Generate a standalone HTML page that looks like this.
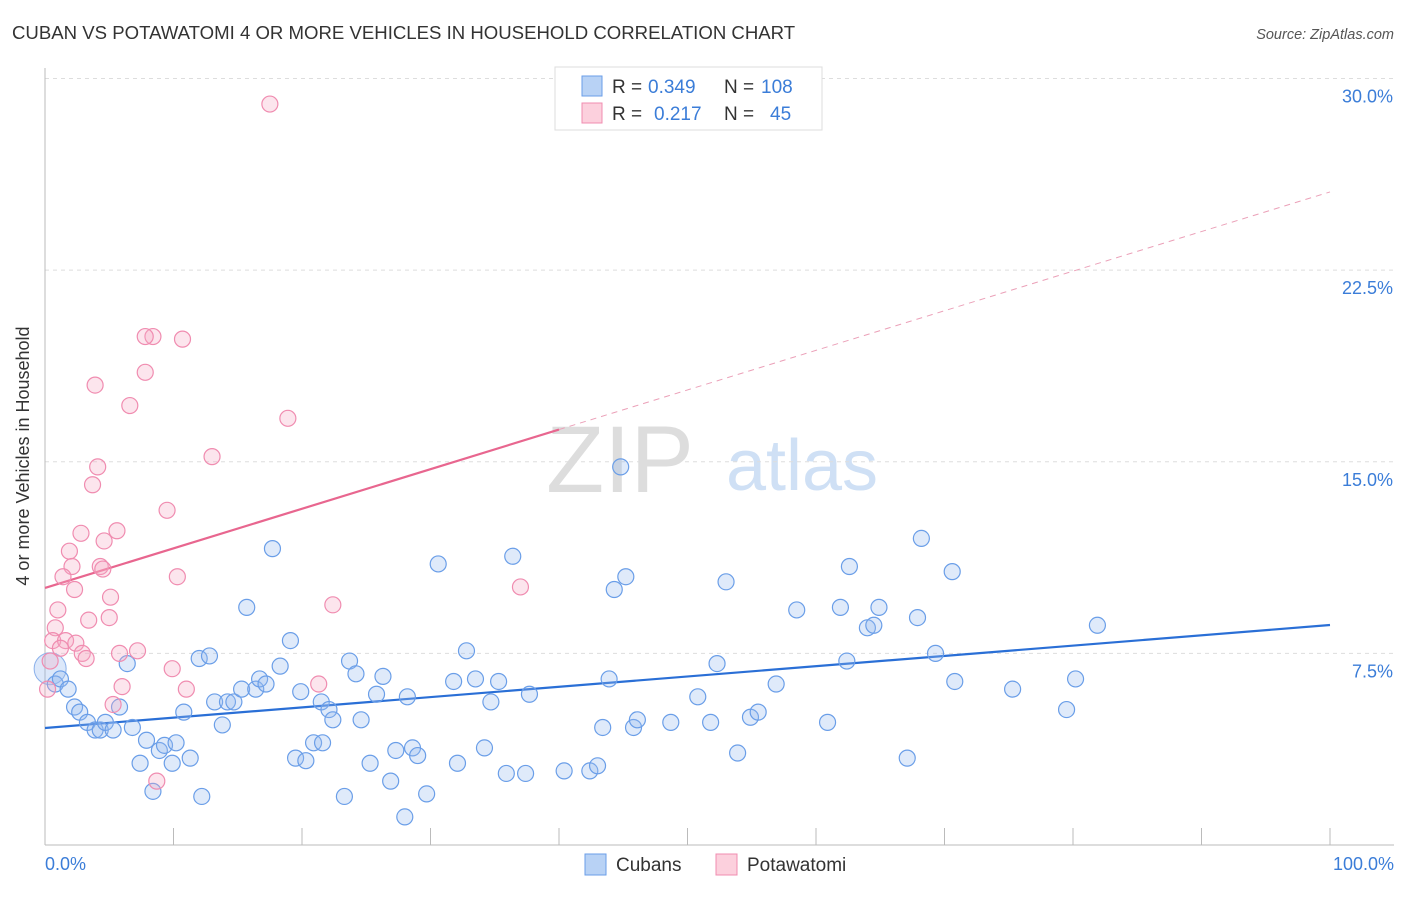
<!DOCTYPE html>
<html><head><meta charset="utf-8"><style>
body{margin:0;background:#fff;font-family:"Liberation Sans",sans-serif;}
svg text{font-family:"Liberation Sans",sans-serif;}
</style></head><body>
<svg id="chart" width="1406" height="892" xmlns="http://www.w3.org/2000/svg">
<text x="12" y="39" font-size="18.6" fill="#333">CUBAN VS POTAWATOMI 4 OR MORE VEHICLES IN HOUSEHOLD CORRELATION CHART</text>
<text x="1394" y="39" font-size="14.5" fill="#555" font-style="italic" text-anchor="end">Source: ZipAtlas.com</text>
<text x="620" y="492" font-size="95" fill="#ddd" font-family="Liberation Serif" text-anchor="middle">ZIP</text>
<text x="802" y="490" font-size="72" fill="#cfe0f5" text-anchor="middle">atlas</text>
<g id="grid"></g>
<g id="axes"></g>
<g id="lines"></g>
<g id="points"></g>
<text x="29" y="456" font-size="18" fill="#333" text-anchor="middle" transform="rotate(-90 29 456)">4 or more Vehicles in Household</text>
<text x="45" y="870" font-size="18" fill="#3b7dd8">0.0%</text>
<text x="1394" y="870" font-size="18" fill="#3b7dd8" text-anchor="end">100.0%</text>
<g font-size="19">
<rect x="555" y="67" width="267" height="63" fill="#fff" stroke="#ddd"/>
<rect x="582" y="76" width="20" height="20" fill="#b8d2f5" stroke="#6a9ee8"/>
<rect x="582" y="103" width="20" height="20" fill="#fcd0dd" stroke="#f08cb0"/>
<text x="612" y="93" fill="#333">R =</text>
<text x="648" y="93" fill="#3b7dd8">0.349</text>
<text x="724" y="93" fill="#333">N =</text>
<text x="761" y="93" fill="#3b7dd8">108</text>
<text x="612" y="120" fill="#333">R =</text>
<text x="654" y="120" fill="#3b7dd8">0.217</text>
<text x="724" y="120" fill="#333">N =</text>
<text x="770" y="120" fill="#3b7dd8">45</text>
</g>
<g>
<rect x="585" y="854" width="21" height="21" fill="#b8d2f5" stroke="#6a9ee8"/>
<text x="616" y="871" font-size="19" fill="#333">Cubans</text>
<rect x="716" y="854" width="21" height="21" fill="#fcd0dd" stroke="#f08cb0"/>
<text x="747" y="871" font-size="19" fill="#333">Potawatomi</text>
</g>
</svg>
<script>
const yTicks=[7.5,15,22.5,30];
const yTickLabels=["7.5%","15.0%","22.5%","30.0%"];
const xTicks=[0,10,20,30,40,50,60,70,80,90,100];
const cubanX=[0.8,1.2,1.8,2.3,2.7,3.3,3.9,4.3,4.7,5.3,5.8,6.4,6.8,7.4,7.9,8.4,8.9,9.3,9.9,10.2,10.8,11.3,12.2,12.0,12.8,13.2,13.8,14.2,14.7,15.3,15.7,16.4,16.7,17.2,17.7,18.3,19.1,19.5,19.9,20.3,20.9,21.6,21.5,22.1,22.4,23.3,23.7,24.2,24.6,25.3,25.8,26.3,26.9,27.3,28.0,28.2,28.6,29.0,29.7,30.6,31.8,32.1,32.8,33.5,34.2,34.7,35.3,35.9,36.4,37.4,37.7,40.4,42.4,43.0,43.4,43.9,44.3,44.8,45.2,45.8,46.1,48.7,50.8,51.8,52.3,53.0,53.9,54.9,55.5,56.9,58.5,60.9,61.9,62.4,62.6,64.0,64.5,64.9,67.1,67.9,68.2,69.3,70.6,70.8,75.3,79.5,80.2,81.9];
const cubanY=[6.3,6.5,6.1,5.4,5.2,4.8,4.5,4.5,4.8,4.5,5.4,7.1,4.6,3.2,4.1,2.1,3.7,3.9,3.2,4.0,5.2,3.4,1.9,7.3,7.4,5.6,4.7,5.6,5.6,6.1,9.3,6.1,6.5,6.3,11.6,7.0,8.0,3.4,6.0,3.3,4.0,4.0,5.6,5.3,4.9,1.9,7.2,6.7,4.9,3.2,5.9,6.6,2.5,3.7,1.1,5.8,3.8,3.5,2.0,11.0,6.4,3.2,7.6,6.5,3.8,5.6,6.4,2.8,11.3,2.8,5.9,2.9,2.9,3.1,4.6,6.5,10.0,14.8,10.5,4.6,4.9,4.8,5.8,4.8,7.1,10.3,3.6,5.0,5.2,6.3,9.2,4.8,9.3,7.2,10.9,8.5,8.6,9.3,3.4,8.9,12.0,7.5,10.7,6.4,6.1,5.3,6.5,8.6];
const potX=[17.5,8.4,7.8,10.7,3.9,7.8,6.6,18.9,13.0,4.1,3.7,9.5,2.8,5.6,1.9,4.6,2.1,4.3,4.5,1.4,10.3,2.3,37.0,5.1,1.0,22.4,5.0,3.4,0.8,0.6,1.6,2.4,1.2,2.9,3.2,5.8,7.2,9.9,6.0,21.3,11.0,5.3,8.7,0.2,0.4];
const potY=[29.0,19.9,19.9,19.8,18.0,18.5,17.2,16.7,15.2,14.8,14.1,13.1,12.2,12.3,11.5,11.9,10.9,10.9,10.8,10.5,10.5,10.0,10.1,9.7,9.2,9.4,8.9,8.8,8.5,8.0,8.0,7.9,7.7,7.5,7.3,7.5,7.6,6.9,6.2,6.3,6.1,5.5,2.5,6.1,7.2];
const cubanTrend=[4.58,8.61];
const potTrend=[10.06,25.56];
const potSolidEnd=40;
const NS="http://www.w3.org/2000/svg";
const X=v=>45+v*12.85, Y=v=>845-v*25.55;
function mk(t,a,p){const e=document.createElementNS(NS,t);for(const k in a)e.setAttribute(k,a[k]);p.appendChild(e);return e;}
const grid=document.getElementById('grid'),axes=document.getElementById('axes'),lines=document.getElementById('lines'),pts=document.getElementById('points');
yTicks.forEach((t,i)=>{
 const l=mk('line',{x1:45,x2:1394,y1:Y(t),y2:Y(t),stroke:'#ddd','stroke-dasharray':'4 4'},grid);
 
 
 const tx=mk('text',{x:1393,y:Y(t)+24,'font-size':18,fill:'#3b7dd8','text-anchor':'end'},grid);
 tx.textContent=yTickLabels[i];
 
 
});
mk('line',{x1:45,x2:45,y1:68,y2:845,stroke:'#bbb'},axes);
mk('line',{x1:45,x2:1394,y1:845,y2:845,stroke:'#bbb'},axes);
xTicks.forEach(t=>{
 const l=mk('line',{x1:X(t),x2:X(t),y1:828,y2:845,stroke:'#bbb'},axes);
 
 
});
const potAt=x=>potTrend[0]+(potTrend[1]-potTrend[0])*x/100;
let e=mk('line',{x1:X(0),y1:Y(cubanTrend[0]),x2:X(100),y2:Y(cubanTrend[1]),stroke:'#2a6fd6','stroke-width':2.2},lines);


e=mk('line',{x1:X(0),y1:Y(potTrend[0]),x2:X(potSolidEnd),y2:Y(potAt(potSolidEnd)),stroke:'#e8668f','stroke-width':2.2},lines);


e=mk('line',{x1:X(potSolidEnd),y1:Y(potAt(potSolidEnd)),x2:X(100),y2:Y(potTrend[1]),stroke:'#eba0b8','stroke-width':1,'stroke-dasharray':'6 5'},lines);


let big=mk('circle',{cx:X(0.4),cy:Y(6.9),r:16,fill:'rgba(140,180,240,0.3)',stroke:'#8ab0ea','stroke-width':1},pts);


cubanX.forEach((x,i)=>{
 const c=mk('circle',{cx:X(x),cy:Y(cubanY[i]),r:8,fill:'rgba(150,185,240,0.3)',stroke:'#6a9ee8','stroke-width':1.2},pts);
 
 
});
potX.forEach((x,i)=>{
 const c=mk('circle',{cx:X(x),cy:Y(potY[i]),r:8,fill:'rgba(245,170,195,0.3)',stroke:'#f08cb0','stroke-width':1.2},pts);
 
 
});
</script>
</body></html>
